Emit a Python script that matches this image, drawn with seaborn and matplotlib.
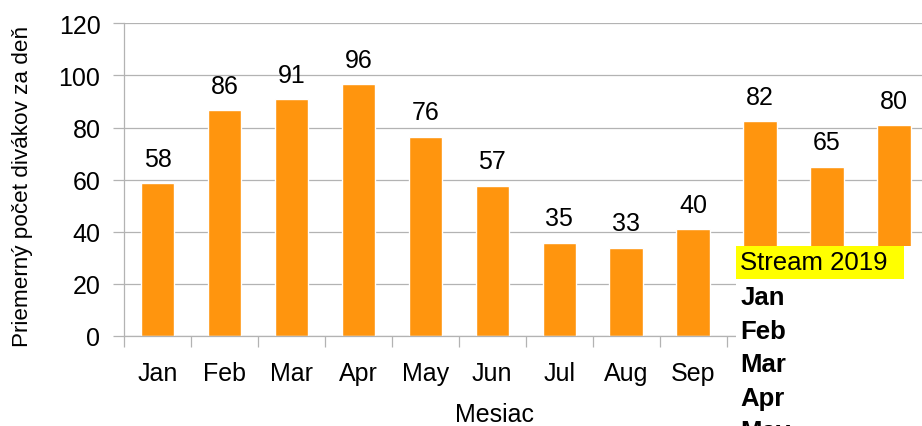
import matplotlib.pyplot as plt
import seaborn as sns
import pandas as pd
import numpy as np
from matplotlib.patches import Rectangle


months = ['Jan', 'Feb', 'Mar', 'Apr', 'May', 'Jun', 'Jul', 'Aug', 'Sep', 'Oct', 'Nov', 'Dec']
values = [58.7, 86.7, 90.9, 96.7, 76.4, 57.6, 35.7, 33.8, 41.0, 82.5, 65.0, 80.9]
value_labels = ['58', '86', '91', '96', '76', '57', '35', '33', '40', '82', '65', '80']
sheet_title = 'Stream 2019'
sheet_rows = ['Jan', 'Feb', 'Mar', 'Apr', 'May']

df = pd.DataFrame({'month': months, 'value': values})

sns.set_theme(style='white')
plt.rcParams['font.family'] = ['Liberation Sans', 'DejaVu Sans']
plt.rcParams['text.color'] = 'black'
plt.rcParams['axes.labelcolor'] = 'black'
plt.rcParams['xtick.labelcolor'] = 'black'
plt.rcParams['ytick.labelcolor'] = 'black'

grey = '#b3b3b3'
fig = plt.figure(figsize=(9.22, 4.27), dpi=100)
ax = fig.add_axes([0.1345, 0.2108, 0.8715, 0.7323])

sns.barplot(data=df, x='month', y='value', color='#ff950e', saturation=1,
            width=0.5, ax=ax)
ax.bar_label(ax.containers[0], labels=value_labels, padding=9, fontsize=18, color='black')

ax.set_xlim(-0.5, 11.5)
ax.set_ylim(0, 120)
ax.set_yticks(range(0, 121, 20))
ax.yaxis.grid(True, color=grey, lw=0.9)
ax.set_axisbelow(True)

ax.set_xticks(np.arange(-0.5, 12, 1), minor=True)
ax.tick_params(axis='x', which='major', length=0, pad=18, labelsize=18)
ax.tick_params(axis='x', which='minor', bottom=True, length=8, color=grey, width=0.9)
ax.tick_params(axis='y', left=True, length=8, color=grey, width=0.9, pad=9, labelsize=18)
# Oct-Dec labels sit under the spreadsheet cells in the original
for lbl in ax.get_xticklabels()[9:]:
    lbl.set_visible(False)

for s in ['top', 'right']:
    ax.spines[s].set_visible(False)
for s in ['left', 'bottom']:
    ax.spines[s].set_color(grey)
    ax.spines[s].set_linewidth(0.9)

ax.set_xlabel('Mesiac', fontsize=18)
ax.set_ylabel('Priemerný počet divákov za deň', fontsize=16.2)
ax.xaxis.set_label_coords(0.4605, -0.212)
ax.yaxis.set_label_coords(-0.113, 0.48)

# spreadsheet cells lying over the chart
fig.patches.append(Rectangle((0.798, 0), 0.21, 0.4215, transform=fig.transFigure,
                             facecolor='white', edgecolor='none', zorder=5))
fig.patches.append(Rectangle((0.798, 0.3443), 0.182, 0.0773, transform=fig.transFigure,
                             facecolor='#ffff00', edgecolor='none', zorder=6))
fig.text(0.803, 0.383, sheet_title, fontsize=18.5, va='center', ha='left', zorder=7)
for i, row in enumerate(sheet_rows):
    fig.text(0.803, 0.302 - i * 0.0787, row, fontsize=18.5, fontweight='bold',
             va='center', ha='left', zorder=7)

fig.savefig('out.png', dpi=100)
